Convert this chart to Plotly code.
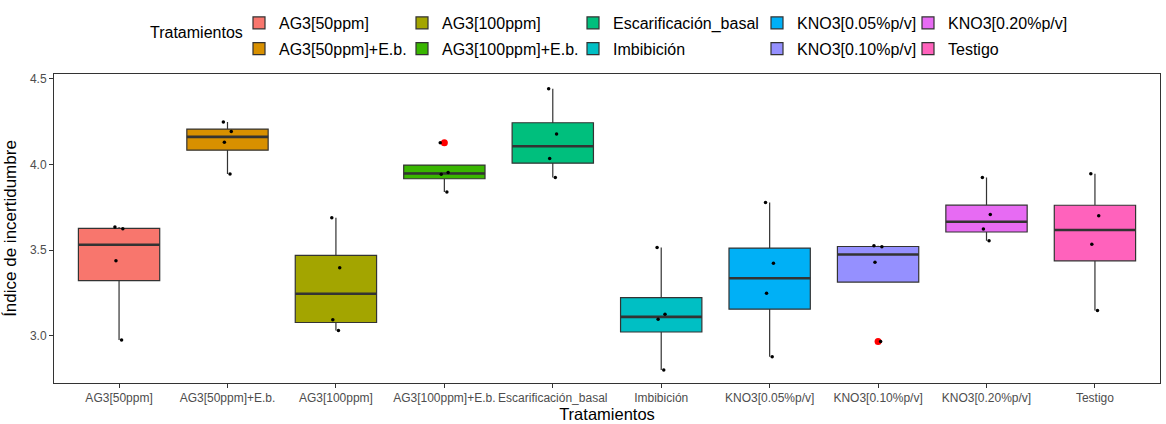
import numpy as np
import plotly.graph_objects as go

# ---------------- data ----------------
categories = ["AG3[50ppm]", "AG3[50ppm]+E.b.", "AG3[100ppm]", "AG3[100ppm]+E.b.",
              "Escarificación_basal", "Imbibición", "KNO3[0.05%p/v]", "KNO3[0.10%p/v]",
              "KNO3[0.20%p/v]", "Testigo"]

ag3_50 = [3.635, 3.625, 3.438, 2.975]
ag3_50_eb = [4.249, 4.193, 4.130, 3.945]
ag3_100 = [3.689, 3.397, 3.093, 3.031]
ag3_100_eb = [4.128, 3.953, 3.943, 3.839]
escarificacion = [4.443, 4.178, 4.036, 3.925]
imbibicion = [3.515, 3.125, 3.096, 2.800]
kno3_005 = [3.779, 3.423, 3.248, 2.877]
kno3_010 = [3.526, 3.520, 3.429, 2.967]
kno3_020 = [3.925, 3.709, 3.623, 3.555]
testigo = [3.946, 3.701, 3.534, 3.148]

series = [ag3_50, ag3_50_eb, ag3_100, ag3_100_eb, escarificacion,
          imbibicion, kno3_005, kno3_010, kno3_020, testigo]

y_ticks = [3.0, 3.5, 4.0, 4.5]

# ---------------- style ----------------
colors = ["#F8766D", "#D89000", "#A3A500", "#39B600", "#00BF7D",
          "#00BFC4", "#00B0F6", "#9590FF", "#E76BF3", "#FF62BC"]
FONT = "Liberation Sans, Arial, sans-serif"
BOX_W = 0.75
EDGE = "#333333"
W, H = 1166, 424
ML, MR, MT, MB = 54, 6, 74, 41
PW, PH = W - ML - MR, H - MT - MB


def px_x(px):
    return (px - ML) / PW


def px_y(py):
    return (H - MB - py) / PH


legend_ids = ["legend", "legend2", "legend3", "legend4", "legend5"]
legend_text_x = [279, 442, 613, 797, 948]   # px where legend text starts

fig = go.Figure()

out_x, out_y = [], []
medians = []
for i, (name, vals, col) in enumerate(zip(categories, series, colors)):
    v = np.array(vals, dtype=float)
    q1, med, q3 = [float(t) for t in np.percentile(v, [25, 50, 75])]
    iqr = q3 - q1
    lo, hi = q1 - 1.5 * iqr, q3 + 1.5 * iqr
    inl = v[(v >= lo) & (v <= hi)]
    lf = float(min(inl.min(), q1))
    uf = float(max(inl.max(), q3))
    for o in v[(v < lo) | (v > hi)]:
        out_x.append(i)
        out_y.append(float(o))
    medians.append(med)
    fig.add_trace(go.Box(
        x=[i], q1=[q1], median=[med], q3=[q3], lowerfence=[lf], upperfence=[uf],
        orientation="v",
        name=name, fillcolor=col, line=dict(color=EDGE, width=1.2),
        whiskerwidth=0, width=BOX_W, boxpoints=False,
        legend=legend_ids[i // 2], legendgroup=name, legendrank=i,
        hoverinfo="skip",
    ))

# thick median lines (flat boxes)
for i, med in enumerate(medians):
    fig.add_trace(go.Box(
        x=[i], q1=[med], median=[med], q3=[med], lowerfence=[med], upperfence=[med],
        orientation="v",
        fillcolor="rgba(0,0,0,0)", line=dict(color=EDGE, width=2.6),
        whiskerwidth=0, width=BOX_W, boxpoints=False, showlegend=False,
        hoverinfo="skip",
    ))

# outliers (red)
if out_x:
    fig.add_trace(go.Box(
        x=out_x, y=out_y, boxpoints="all", jitter=0, pointpos=0, orientation="v",
        marker=dict(color="#FF0000", size=7),
        line=dict(width=0, color="rgba(0,0,0,0)"), fillcolor="rgba(0,0,0,0)",
        width=BOX_W, showlegend=False, hoverinfo="y",
    ))

# jittered observations (black)
for i, vals in enumerate(series):
    fig.add_trace(go.Box(
        x=[i] * len(vals), y=vals, boxpoints="all", jitter=0.12, pointpos=0,
        orientation="v",
        marker=dict(color="black", size=3.5),
        line=dict(width=0, color="rgba(0,0,0,0)"), fillcolor="rgba(0,0,0,0)",
        width=BOX_W, showlegend=False, hoverinfo="y",
    ))

layout_legends = {}
for k, lid in enumerate(legend_ids):
    layout_legends[lid] = dict(
        orientation="v",
        x=px_x(legend_text_x[k] - 40), y=px_y(6),
        xanchor="left", yanchor="top",
        font=dict(family=FONT, size=16, color="black"),
        bgcolor="rgba(0,0,0,0)", borderwidth=0, tracegroupgap=2,
    )

fig.update_layout(
    width=W, height=H, autosize=False,
    margin=dict(l=ML, r=MR, t=MT, b=MB, pad=0, autoexpand=False),
    paper_bgcolor="white", plot_bgcolor="white",
    font=dict(family=FONT, color="black"),
    boxmode="overlay",
    **layout_legends,
    annotations=[dict(
        text="Tratamientos", xref="paper", yref="paper",
        x=px_x(148), y=px_y(33),
        xanchor="left", yanchor="middle", showarrow=False,
        font=dict(family=FONT, size=16, color="black"),
    )],
)

fig.update_xaxes(
    type="linear",
    range=[-0.6, len(categories) - 0.4],
    tickmode="array", tickvals=list(range(len(categories))), ticktext=categories,
    tickangle=0, ticks="outside", ticklen=4, tickcolor=EDGE, tickwidth=1,
    showline=True, linecolor=EDGE, linewidth=1, mirror=True,
    showgrid=False, zeroline=False,
    tickfont=dict(family=FONT, size=12, color="#4D4D4D"),
    title=dict(text="Tratamientos", font=dict(family=FONT, size=16.5, color="black"), standoff=4),
    automargin=False,
)
fig.update_yaxes(
    type="linear",
    range=[2.724, 4.529],
    tickmode="array", tickvals=y_ticks, tickformat=".1f",
    ticks="outside", ticklen=4, tickcolor=EDGE, tickwidth=1,
    showline=True, linecolor=EDGE, linewidth=1, mirror=True,
    showgrid=False, zeroline=False,
    tickfont=dict(family=FONT, size=12, color="#4D4D4D"),
    title=dict(text="Índice de incertidumbre", font=dict(family=FONT, size=17, color="black"), standoff=8),
    automargin=False,
)

fig.write_html("out.html")
